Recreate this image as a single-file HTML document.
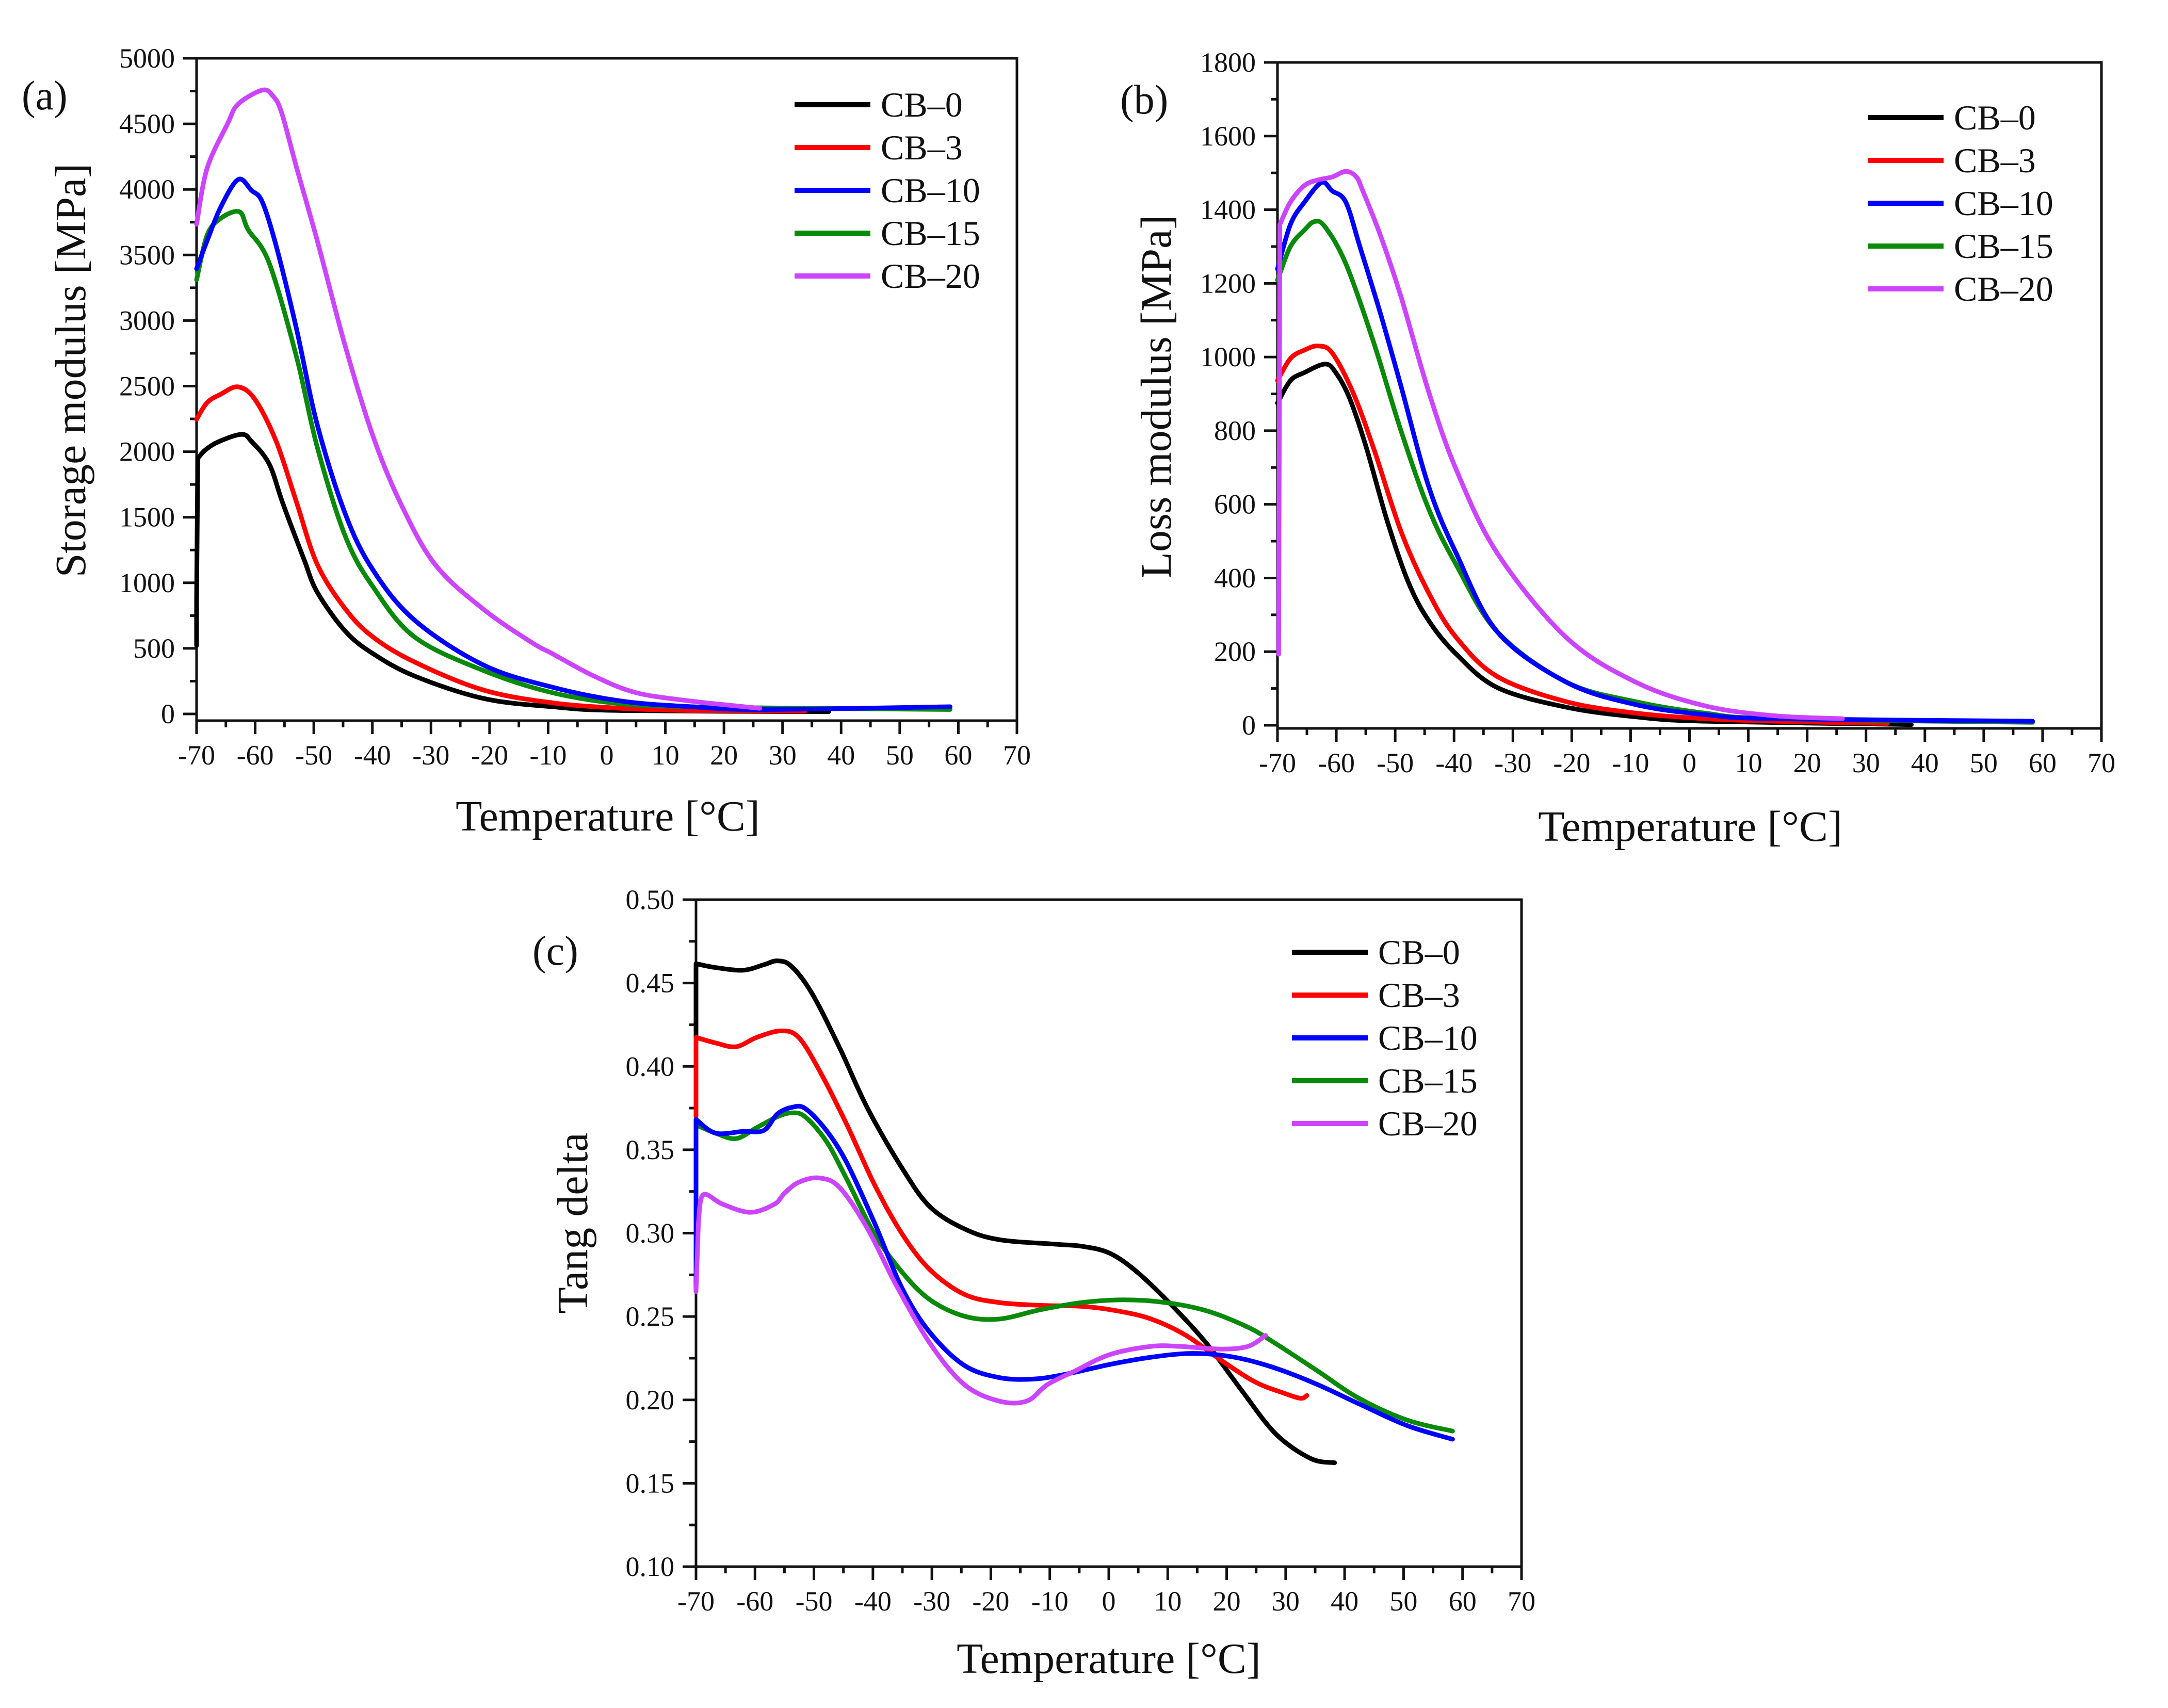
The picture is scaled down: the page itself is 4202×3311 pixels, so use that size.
<!DOCTYPE html>
<html><head><meta charset="utf-8"><style>
html,body{margin:0;padding:0;background:#fff;}
svg{display:block;}
text{font-family:"Liberation Serif",serif;fill:#111;}
</style></head><body>
<svg id="fig" width="4202" height="3311" viewBox="0 0 4202 3311" xmlns="http://www.w3.org/2000/svg"></svg>
<script>
const seriesNames = ["CB\u20130","CB\u20133","CB\u201310","CB\u201315","CB\u201320"];
const seriesKeys = ["cb-0","cb-3","cb-10","cb-15","cb-20"];
const seriesColors = ["#000000","#ff0000","#0000ff","#0a8a0a","#cc44ff"];

// Temperature ticks
const xTicks = [-70,-60,-50,-40,-30,-20,-10,0,10,20,30,40,50,60,70];

// (a) storage modulus [MPa]
const aTicks = [0,500,1000,1500,2000,2500,3000,3500,4000,4500,5000];
const aT0 = [-70,-70,-69.8,-68.5,-66.2,-62.3,-60.6,-57.6,-55.3,-51.7,-49.4,-44.6,-39.9,-32.8,-21.1,-9.3,2.5,37.9];
const aV0 = [523,850,1949,2013,2077,2132,2077,1906,1608,1183,928,630,460,289,119,55,26,17];
const aT3 = [-70,-68.2,-65.9,-62.9,-60,-56.4,-52.9,-49.4,-44.6,-39.9,-32.8,-21.1,-9.3,2.5,14.4,33.8];
const aV3 = [2247,2374,2438,2494,2396,2077,1608,1140,800,587,396,183,85,43,26,21];
const aT10 = [-70,-68.2,-65.9,-62.9,-60.6,-58.8,-56.4,-52.9,-49.4,-44.6,-39.9,-32.8,-21.1,-9.3,2.5,14.4,26.1,58.6];
const aV10 = [3395,3608,3863,4076,3991,3906,3566,2927,2204,1523,1098,715,374,204,98,55,34,55];
const aT15 = [-70,-68.2,-65.9,-62.7,-61.2,-57.6,-52.9,-49.4,-44.6,-39.9,-32.8,-21.1,-9.3,2.5,14.4,26.1,58.6];
const aV15 = [3310,3651,3779,3830,3693,3438,2715,2034,1353,970,587,332,162,77,55,47,34];
const aT20 = [-70,-68.2,-64.7,-62.9,-58.8,-57,-55.5,-52.9,-49.4,-44.6,-39.9,-35.2,-29.3,-21.1,-12.8,-9.3,-2.2,5,14.4,26.1];
const aV20 = [3735,4161,4502,4651,4757,4714,4587,4161,3608,2800,2119,1608,1140,800,545,460,289,162,98,43];

// (b) loss modulus [MPa]
const bTicks = [0,200,400,600,800,1000,1200,1400,1600,1800];
const bT0 = [-70,-67.8,-65.4,-61.9,-60.1,-57.8,-54.9,-51.4,-47.8,-44.3,-39.6,-32.6,-20.9,-9.1,2.6,37.7];
const bV0 = [875,936,958,981,958,890,754,557,390,284,193,102,49,23,11,2];
const bT3 = [-70,-67.8,-65.4,-63.1,-60.7,-57.2,-53.7,-49,-44.3,-39.6,-32.6,-20.9,-9.1,2.6,14.3,33.6];
const bV3 = [936,996,1019,1030,1011,905,754,526,359,238,132,64,33,18,11,5];
const bT10 = [-70,-67.8,-65.4,-62.5,-60.7,-58.4,-56,-52.5,-49,-44.3,-39.6,-32.6,-20.9,-9.1,2.6,14.3,58.3];
const bV10 = [1239,1360,1421,1474,1451,1421,1300,1118,920,648,466,253,117,56,29,18,11];
const bT15 = [-70,-67.8,-65.4,-63.7,-61.9,-58.4,-53.7,-49,-44.3,-39.6,-32.6,-20.9,-9.1,2.6,14.3,58.3];
const bV15 = [1209,1300,1345,1368,1353,1254,1042,799,587,435,253,117,64,33,18,8];
const bT20 = [-69.8,-69.6,-67.8,-65.4,-63.1,-60.7,-58.4,-56.6,-55.5,-52.5,-49,-44.3,-39.6,-32.6,-20.9,-9.1,2.6,14.3,26];
const bV20 = [193,1360,1421,1466,1481,1489,1504,1489,1451,1330,1163,905,693,466,238,117,53,26,18];

// (c) tan delta
const cTicks = [0.10,0.15,0.20,0.25,0.30,0.35,0.40,0.45,0.50];
const cT0 = [-70,-70,-66.7,-62,-58.5,-56.2,-53.8,-50.3,-45.6,-40.9,-35,-30.3,-24.5,-18.6,-9.2,-4.5,0.2,4.9,10.7,16.6,22.5,28.3,34.2,38.3];
const cV0 = [0.37,0.4616,0.4593,0.4577,0.461,0.4633,0.46,0.4436,0.4108,0.3748,0.3387,0.3157,0.3026,0.2961,0.2934,0.2921,0.2879,0.2764,0.2567,0.2338,0.2059,0.1797,0.1649,0.1623];
const cT3 = [-70,-70,-66.7,-63.2,-59.7,-55.6,-52.6,-49.1,-44.4,-39.7,-35,-30.3,-24.5,-18.6,-11.6,-4.5,1.4,7.2,13.1,19,24.8,29.5,32.5,33.6];
const cV3 = [0.37,0.4174,0.4141,0.4118,0.4174,0.4213,0.4174,0.3977,0.3649,0.3289,0.2993,0.278,0.2633,0.2584,0.2567,0.2561,0.2534,0.2485,0.2387,0.2239,0.2108,0.2043,0.201,0.2026];
const cT10 = [-70,-70,-66.7,-62,-58.5,-56.2,-53.8,-51.5,-47.9,-44.4,-39.7,-35,-30.3,-24.5,-18.6,-12.7,-6.9,0.2,7.2,14.3,21.3,28.3,35.4,42.4,50.6,58.3];
const cV10 = [0.265,0.3682,0.36,0.361,0.3616,0.3715,0.3754,0.3748,0.3616,0.342,0.3059,0.2666,0.2403,0.2207,0.2134,0.2125,0.2157,0.2213,0.2256,0.2279,0.2256,0.219,0.2092,0.1977,0.1846,0.1764];
const cT15 = [-70,-70,-66.7,-63.2,-59.7,-56.2,-53.8,-51.5,-47.9,-44.4,-39.7,-35,-30.3,-24.5,-18.6,-11.6,-4.5,2.5,9.6,16.6,23.6,28.3,35.4,42.4,50.6,58.3];
const cV15 = [0.30,0.3649,0.36,0.3567,0.3633,0.3698,0.3721,0.3698,0.3551,0.3321,0.2993,0.2764,0.26,0.2502,0.2485,0.2541,0.2584,0.26,0.2584,0.2534,0.2436,0.2338,0.2174,0.201,0.1879,0.1813];
const cT20 = [-70,-69.6,-68.8,-65.5,-60.8,-56.7,-55,-52.6,-49.1,-45.6,-40.9,-36.2,-30.3,-24.5,-18.6,-13.9,-10.4,-5.7,0.2,7.2,11.9,19,23.6,26.6];
const cV20 = [0.265,0.306,0.323,0.3174,0.3125,0.3174,0.3239,0.3305,0.3331,0.3272,0.3026,0.2698,0.2338,0.2092,0.1993,0.1993,0.2092,0.2174,0.2272,0.2321,0.2321,0.2305,0.2321,0.2387];

const NS = "http://www.w3.org/2000/svg";
const svg = document.getElementById("fig");
function mk(tag, attrs, parent){ const e=document.createElementNS(NS,tag); for(const k in attrs) e.setAttribute(k,attrs[k]); (parent||svg).appendChild(e); return e; }

// smooth runs separated by near-vertical jumps (drawn straight)
function smoothRun(pts){
  let d="";
  for(let i=0;i<pts.length-1;i++){
    const p0=pts[Math.max(0,i-1)], p1=pts[i], p2=pts[i+1], p3=pts[Math.min(pts.length-1,i+2)];
    const c1x=p1[0]+(p2[0]-p0[0])/6, c1y=p1[1]+(p2[1]-p0[1])/6;
    const c2x=p2[0]-(p3[0]-p1[0])/6, c2y=p2[1]-(p3[1]-p1[1])/6;
    d += "C"+c1x.toFixed(1)+","+c1y.toFixed(1)+" "+c2x.toFixed(1)+","+c2y.toFixed(1)+" "+p2[0].toFixed(1)+","+p2[1].toFixed(1);
  }
  return d;
}
function smoothPath(pts){
  let d = "M"+pts[0][0].toFixed(1)+","+pts[0][1].toFixed(1);
  let run=[pts[0]];
  for(let i=1;i<pts.length;i++){
    const dx=Math.abs(pts[i][0]-pts[i-1][0]), dy=Math.abs(pts[i][1]-pts[i-1][1]);
    if(dx<6 && dy>20){
      if(run.length>1) d+=smoothRun(run);
      d += "L"+pts[i][0].toFixed(1)+","+pts[i][1].toFixed(1);
      run=[pts[i]];
    } else run.push(pts[i]);
  }
  if(run.length>1) d+=smoothRun(run);
  return d;
}

function panel(cfg){
  const g = mk("g",{});
  
  
  const L=cfg.L,R=cfg.R,T=cfg.T,Y0=cfg.Y0,AX=cfg.AX;
  const ymin=cfg.yTicks[0], ymax=cfg.yTicks[cfg.yTicks.length-1];
  const sx = t => L + (t+70)/140*(R-L);
  const sy = v => Y0 - (v-ymin)/(ymax-ymin)*(Y0-T);
  const frame = mk("rect",{x:L,y:T,width:R-L,height:AX-T,fill:"none",stroke:"#111","stroke-width":5},g);
  
  
  for(let t=-70;t<=70;t+=5){
    const major = (t%10===0);
    const tk = mk("line",{x1:sx(t),x2:sx(t),y1:AX,y2:AX+(major?26:13),stroke:"#111","stroke-width":5},g);
    
    
  }
  xTicks.forEach(t=>{
    const tx = mk("text",{x:sx(t),y:AX+85,"font-size":54,"text-anchor":"middle"},g);
    tx.textContent = String(t);
    
    
  });
  const step = cfg.yTicks[1]-cfg.yTicks[0];
  for(let i=0;i<cfg.yTicks.length;i++){
    const v=cfg.yTicks[i];
    const tk = mk("line",{x1:L-26,x2:L,y1:sy(v),y2:sy(v),stroke:"#111","stroke-width":5},g);
    
    
    if(i<cfg.yTicks.length-1){
      const mt = mk("line",{x1:L-13,x2:L,y1:sy(v+step/2),y2:sy(v+step/2),stroke:"#111","stroke-width":5},g);
      
      
    }
    const tx = mk("text",{x:L-42,y:sy(v)+18,"font-size":54,"text-anchor":"end"},g);
    tx.textContent = cfg.fmt(v);
    
    
  }
  const xt = mk("text",{x:cfg.xtX,y:cfg.xtY,"font-size":84,"text-anchor":"middle"},g);
  xt.textContent = "Temperature [\u00B0C]";
  
  
  const yt = mk("text",{x:0,y:0,"font-size":84,"text-anchor":"middle",transform:`translate(${cfg.ytX},${cfg.ytY}) rotate(-90)`},g);
  yt.textContent = cfg.ytitle;
  
  
  const pl = mk("text",{x:cfg.plX,y:cfg.plY,"font-size":80},g);
  pl.textContent = cfg.label;
  
  
  const order=[0,1,3,2,4];
  order.forEach(i=>{
    const Ts=cfg.T_[i], Vs=cfg.V_[i];
    const pts = Ts.map((t,k)=>[sx(t), sy(Vs[k])]);
    const p = mk("path",{d:smoothPath(pts),fill:"none",stroke:seriesColors[i],"stroke-width":9,"stroke-linejoin":"round","stroke-linecap":"round"},g);
    
    
  });
  const lg = mk("g",{},g);
  
  
  seriesNames.forEach((n,i)=>{
    const y = cfg.lgY + i*cfg.lgDy;
    const ln = mk("line",{x1:cfg.lgX,x2:cfg.lgX+147,y1:y,y2:y,stroke:seriesColors[i],"stroke-width":10},lg);
    
    
    const tx = mk("text",{x:cfg.lgX+167,y:y+23,"font-size":68},lg);
    tx.textContent = n;
    
    
  });
}

panel({id:"panel-a-storage-modulus",L:381,R:1971,T:113,Y0:1384,AX:1397,yTicks:aTicks,fmt:v=>String(v),
  T_:[aT0,aT3,aT10,aT15,aT20],V_:[aV0,aV3,aV10,aV15,aV20],
  xtX:1178,xtY:1610,ytX:165,ytY:718,ytitle:"Storage modulus [MPa]",label:"(a)",plX:42,plY:212,lgX:1540,lgY:203,lgDy:83});
panel({id:"panel-b-loss-modulus",L:2476,R:4073,T:121,Y0:1406,AX:1412,yTicks:bTicks,fmt:v=>String(v),
  T_:[bT0,bT3,bT10,bT15,bT20],V_:[bV0,bV3,bV10,bV15,bV20],
  xtX:3276,xtY:1630,ytX:2269,ytY:769,ytitle:"Loss modulus [MPa]",label:"(b)",plX:2171,plY:220,lgX:3620,lgY:228,lgDy:83});
panel({id:"panel-c-tan-delta",L:1349,R:2949,T:1744,Y0:3037,AX:3037,yTicks:cTicks,fmt:v=>v.toFixed(2),
  T_:[cT0,cT3,cT10,cT15,cT20],V_:[cV0,cV3,cV10,cV15,cV20],
  xtX:2149,xtY:3243,ytX:1138,ytY:2371,ytitle:"Tang delta",label:"(c)",plX:1032,plY:1870,lgX:2504,lgY:1846,lgDy:83});
</script>
</body></html>
